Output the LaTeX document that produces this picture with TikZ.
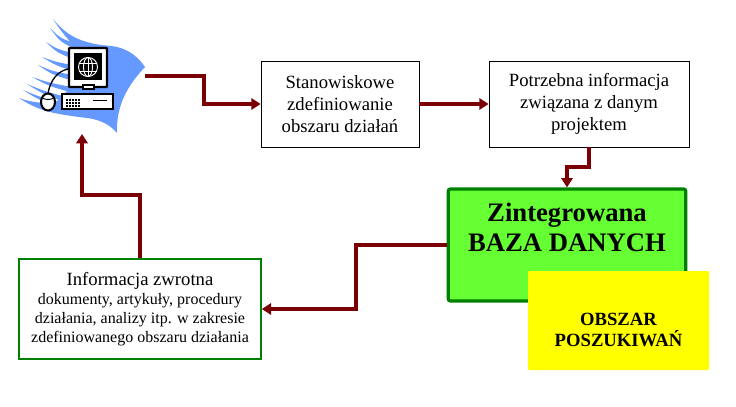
\documentclass[tikz,border=0pt]{standalone}
\usepackage{fontspec}
\setmainfont{Liberation Serif}
\usetikzlibrary{arrows.meta}
\definecolor{conn}{RGB}{122,0,6}
\definecolor{dgreen}{RGB}{0,128,0}
\definecolor{bazag}{RGB}{102,255,51}
\definecolor{pcblue}{RGB}{102,153,255}
\definecolor{yel}{RGB}{255,255,0}
\tikzset{
  x=.75pt,y=-.75pt,
  conline/.style={draw=conn,line width=2.4pt,-{Triangle[length=7pt,width=8.5pt]}},
  plainbox/.style={draw=black,line width=.6pt,fill=white,align=center,inner sep=0pt,minimum width=118.5pt,minimum height=64.5pt},
  t14/.style={font=\fontsize{14}{16.5}\selectfont},
}
\begin{document}
\begin{tikzpicture}
\useasboundingbox (0,0) rectangle (736,407);
\fill[white] (0,0) rectangle (736,407);
% blue sheet
\fill[pcblue] (53,19) .. controls (62,30) and (72,38) .. (87,42)
  .. controls (100,46) and (108,45) .. (117,47)
  .. controls (130,50) and (139,58) .. (145,67)
  .. controls (128,85) and (116,105) .. (117,133)
  .. controls (108,122) and (95,119) .. (87,118)
  .. controls (70,116) and (58,114) .. (50,112)
  .. controls (38,109) and (28,104) .. (19,98)
  .. controls (30,102) and (42,104) .. (56,102)
  -- (68,90) -- (72,44)
  .. controls (65,36) and (58,27) .. (53,19) -- cycle;
\foreach \tx/\ty/\bx/\by/\cx/\cy in {
  50/28/74/46/60/39, 46/42/72/56/57/50, 42/57/72/68/56/63,
  38/65/72/78/52/72, 32/77/72/90/50/84, 27/84/66/100/44/92, 23/90/60/105/40/98}{
  \fill[pcblue] (\tx,\ty) .. controls (\cx,\cy-1) .. (\bx,\by-3) -- (\bx,\by+2.5)
     .. controls (\cx,\cy+2.5) .. (\tx,\ty) -- cycle;
}
% monitor
\draw[black,line width=1.6pt,fill=white,rounded corners=.5pt] (69,48) rectangle (107,87);
\fill[black] (74,53) rectangle (102,80);
\draw[black,line width=1pt,fill=white] (83,85) rectangle (94,89);
\draw[white,line width=.7pt] (88,67) circle (9.5);
\draw[white,line width=.7pt] (88,67) ellipse (4.5 and 9.5);
\draw[white,line width=.7pt] (88,57.5) -- (88,76.5) (79,63) -- (97,63) (79,71) -- (97,71);
% cable
\draw[black,line width=1pt] (68,69) .. controls (58,71) and (50,80) .. (48,94);
% mouse
\draw[black,line width=1.5pt,fill=white] (48,102) ellipse (7 and 8.5);
\draw[black,line width=.7pt] (42,98) .. controls (46,100) and (50,100) .. (54,98);
% base unit
\draw[black,line width=1.6pt,fill=white] (62,94) rectangle (113,109);
\draw[black,line width=1pt] (93,100.5) -- (107,100.5);
\foreach \a in {66,69,72,75,78}{\foreach \b in {99,102,105}{\fill[black] (\a,\b) rectangle (\a+1.5,\b+1.5);}}

% boxes
\node[plainbox,t14] (st) at (340,104) {Stanowiskowe\\zdefiniowanie\\obszaru działań};
\node[plainbox,t14,minimum width=150pt] (pot) at (589,104) {Potrzebna informacja\\związana z danym\\projektem};
\node[draw=dgreen,line width=2.4pt,fill=bazag,rounded corners=1.5pt,inner sep=0pt,
  minimum width=178pt,minimum height=84pt] (baza) at (567,245) {};
\node[font=\bfseries\fontsize{20}{22.5}\selectfont,align=center,inner sep=0pt] (bazat) at (567,227.5) {Zintegrowana\\BAZA DANYCH};
\node[fill=yel,rounded corners=.8pt,inner sep=0pt,minimum width=135.75pt,minimum height=74.25pt] (obs) at (618.5,320.5) {};
\node[font=\bfseries\fontsize{14}{16}\selectfont,align=center,inner sep=0pt] (obst) at (618.5,330) {OBSZAR\\POSZUKIWAŃ};
\node[draw=dgreen,line width=1.2pt,fill=white,align=center,inner sep=0pt,minimum width=181.5pt,minimum height=75pt,
  font=\fontsize{12}{14.25}\selectfont] (inf) at (140,309)
 {\fontsize{14}{15}\selectfont Informacja zwrotna\\
  dokumenty, artykuły, procedury\\działania, analizy itp. w zakresie\\zdefiniowanego obszaru działania};

% connector ends
\coordinate (pcout) at (145,76);
\coordinate (pcin) at (82,134);

% connectors
\draw[conline] (pcout) -- (204,76) |- (st.west);
\draw[conline] (st.east) -- (pot.west);
\draw[conline] (pot.south) -- (589,167) -| (baza.north);
\draw[conline] (baza.west) -- (356,245) |- (inf.east);
\draw[conline] (inf.north) -- (140,195) -| (pcin);
\end{tikzpicture}
\end{document}
